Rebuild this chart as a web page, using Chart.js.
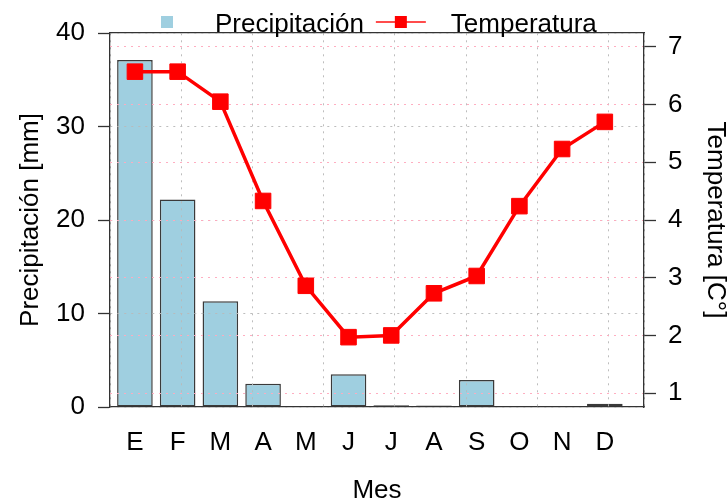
<!DOCTYPE html>
<html>
<head>
<meta charset="utf-8">
<script src="https://cdn.jsdelivr.net/npm/chart.js@4"></script>
<style>
  body { margin: 0; background: #fff; }
  #wrap { width: 728px; height: 504px; }
</style>
</head>
<body>
<div id="wrap"><canvas id="climograma"></canvas></div>
<script>
const meses = ['E', 'F', 'M', 'A', 'M', 'J', 'J', 'A', 'S', 'O', 'N', 'D'];
const precipitacion = [37.1, 22.2, 11.3, 2.5, 0.05, 3.5, 0.2, 0.15, 2.9, 0, 0, 0.35];
const temperatura = [6.57, 6.57, 6.05, 4.33, 2.86, 1.97, 2.0, 2.73, 3.03, 4.24, 5.23, 5.7];
const ticksPrecip = [0, 10, 20, 30, 40];
const ticksTemp = [1, 2, 3, 4, 5, 6, 7];

// barplot style positions: bar width 1, space 0.2
const posX = i => 0.7 + 1.2 * i;

const FONT = "'Liberation Sans', Arial, Helvetica, sans-serif";
const AXIS = '#333';
const AZUL = '#9fcfe0';
const ROJO = '#ff0000';

Chart.defaults.font.family = FONT;
Chart.defaults.color = '#000';

// bars first, then the dotted grid, then the temperature line on top
const lineaEncima = {
  id: 'lineaEncima',
  beforeDatasetDraw(chart, args) {
    if (args.meta.type === 'line') return false;
  },
  afterDraw(chart) {
    chart.getDatasetMeta(1).controller.draw();
  }
};

// legend in the style of base R: symbol, then label, horizontally
const leyenda = {
  id: 'leyenda',
  afterDraw(chart) {
    const ctx = chart.ctx;
    const ds = chart.data.datasets;
    const y = 22;
    let x = chart.chartArea.left + 32;
    ctx.save();
    ctx.font = '26px ' + FONT;
    ctx.textBaseline = 'middle';

    // Precipitación: filled square
    ctx.fillStyle = ds[0].backgroundColor;
    ctx.fillRect(x + 25 - 6, y - 6, 12, 12);
    x += 73;
    ctx.fillStyle = '#000';
    ctx.fillText(ds[0].label, x, y + 3);
    x += ctx.measureText(ds[0].label).width + 12;

    // Temperatura: line with square
    ctx.strokeStyle = 'rgba(255,0,0,0.7)';
    ctx.lineWidth = 2;
    ctx.beginPath();
    ctx.moveTo(x, y);
    ctx.lineTo(x + 50, y);
    ctx.stroke();
    ctx.fillStyle = ROJO;
    ctx.fillRect(x + 25 - 6, y - 6, 12, 12);
    x += 75;
    ctx.fillStyle = '#000';
    ctx.fillText(ds[1].label, x, y + 3);
    ctx.restore();
  }
};

const ctx = document.getElementById('climograma').getContext('2d');
new Chart(ctx, {
  data: {
    datasets: [
      {
        type: 'bar',
        label: 'Precipitación',
        data: precipitacion.map((v, i) => ({ x: posX(i), y: v })),
        backgroundColor: AZUL,
        borderColor: '#3a3a3a',
        borderWidth: 1.5,
        borderSkipped: false,
        barPercentage: 1 / 1.2,
        categoryPercentage: 1,
        xAxisID: 'x',
        yAxisID: 'y'
      },
      {
        type: 'line',
        label: 'Temperatura',
        data: temperatura.map((v, i) => ({ x: posX(i), y: v })),
        borderColor: ROJO,
        borderWidth: 3.5,
        pointStyle: 'rect',
        pointRadius: 11,
        pointBackgroundColor: ROJO,
        pointBorderColor: ROJO,
        pointBorderWidth: 1,
        tension: 0,
        xAxisID: 'x',
        yAxisID: 'y2'
      }
    ]
  },
  options: {
    responsive: true,
    maintainAspectRatio: false,
    animation: false,
    layout: { padding: { top: 33, left: 0, right: 0, bottom: 0 } },
    plugins: {
      legend: { display: false },
      tooltip: { enabled: false }
    },
    scales: {
      x: {
        type: 'linear',
        position: 'bottom',
        offset: false,
        min: 0,
        max: 15,
        afterBuildTicks: s => { s.ticks = meses.map((m, i) => ({ value: posX(i) })); },
        afterFit: s => { s.height = 97; },
        grid: { display: false, offset: false, drawTicks: false, tickLength: 0 },
        border: { color: AXIS, width: 1.3, z: 1 },
        ticks: {
          autoSkip: false,
          maxRotation: 0,
          padding: 23,
          font: { size: 26, lineHeight: 1 },
          callback: (v, i) => meses[i]
        },
        title: {
          display: true,
          text: 'Mes',
          font: { size: 26, lineHeight: 1 },
          padding: { top: 0, bottom: 0 }
        }
      },
      xGrid: {
        type: 'linear',
        position: 'top',
        offset: false,
        min: 0,
        max: 15,
        ticks: { display: false, stepSize: 2 },
        afterFit: s => { s.height = 0; },
        grid: { color: 'rgba(185,185,185,0.95)', offset: false, drawTicks: false, tickLength: 0, z: 1 },
        border: { color: AXIS, width: 1.3, dash: [2, 5], z: 1 }
      },
      y: {
        type: 'linear',
        position: 'left',
        min: 0,
        max: 40,
        afterBuildTicks: s => { s.ticks = ticksPrecip.map(v => ({ value: v })); },
        afterFit: s => { s.width = 110; },
        grid: {
          color: 'rgba(185,185,185,0.95)',
          tickColor: AXIS,
          tickLength: 12,
          tickWidth: 1.3,
          z: 1
        },
        border: { color: AXIS, width: 1.3, dash: [2, 5], z: 1 },
        ticks: { padding: 13, font: { size: 26, lineHeight: 1 } },
        title: {
          display: true,
          text: 'Precipitación [mm]',
          font: { size: 26, lineHeight: 1 },
          padding: { top: 18, bottom: 0 }
        }
      },
      y2: {
        type: 'linear',
        position: 'right',
        min: 0.76,
        max: 7.24,
        afterBuildTicks: s => { s.ticks = ticksTemp.map(v => ({ value: v })); },
        afterFit: s => { s.width = 84; },
        grid: {
          color: 'rgba(255,170,190,0.95)',
          tickColor: AXIS,
          tickLength: 12,
          tickWidth: 1.3,
          z: 1
        },
        border: { color: AXIS, width: 1.3, dash: [2, 5], z: 1 },
        ticks: { padding: 12, font: { size: 26, lineHeight: 1 } },
        title: {
          display: true,
          text: 'Temperatura [C°]',
          font: { size: 26, lineHeight: 1 },
          padding: { top: 0, bottom: 0 }
        }
      }
    }
  },
  plugins: [lineaEncima, leyenda]
});
</script>
</body>
</html>
